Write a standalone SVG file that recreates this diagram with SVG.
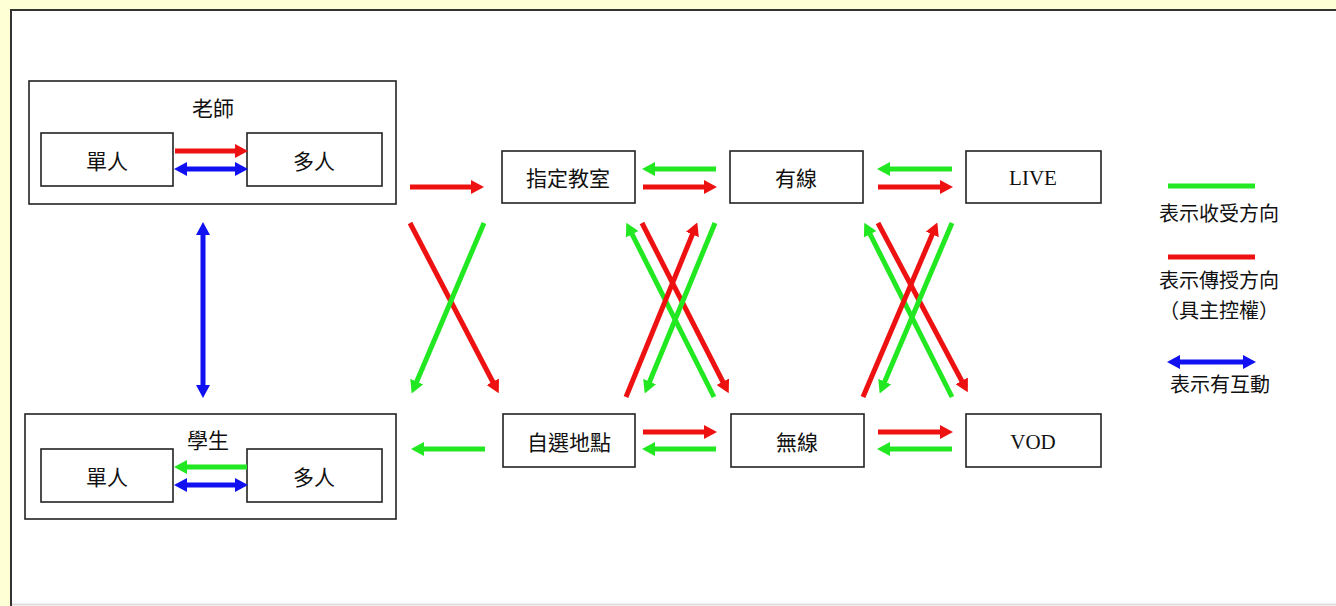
<svg xmlns="http://www.w3.org/2000/svg" width="1336" height="606" viewBox="0 0 1336 606">
<defs>
<style>
.box{fill:#fff;stroke:#222;stroke-width:1.6}
.t{font-family:"Noto Sans CJK TC","Noto Sans CJK SC",sans-serif;font-size:21px;fill:#111;text-anchor:middle;dominant-baseline:central}
.lg{font-size:20px}
.lt{font-family:"Liberation Serif",serif;font-size:21px;fill:#111;text-anchor:middle;dominant-baseline:central}
.r{stroke:#EE1111;stroke-width:5;fill:none;marker-end:url(#ar)}
.g{stroke:#22E822;stroke-width:5;fill:none;marker-end:url(#ag)}
.b{stroke:#1010F0;stroke-width:5;fill:none;marker-end:url(#ab);marker-start:url(#ab)}
</style>
<marker id="ar" markerUnits="userSpaceOnUse" markerWidth="13" markerHeight="14" refX="7" refY="7" orient="auto-start-reverse"><path d="M0,0 L13,7 L0,14 z" fill="#EE1111"/></marker>
<marker id="ag" markerUnits="userSpaceOnUse" markerWidth="13" markerHeight="14" refX="7" refY="7" orient="auto-start-reverse"><path d="M0,0 L13,7 L0,14 z" fill="#22E822"/></marker>
<marker id="ab" markerUnits="userSpaceOnUse" markerWidth="13" markerHeight="14" refX="7" refY="7" orient="auto-start-reverse"><path d="M0,0 L13,7 L0,14 z" fill="#1010F0"/></marker>
</defs>
<rect x="0" y="0" width="1336" height="606" fill="#FFFFD6"/>
<rect x="11" y="10" width="1340" height="600" fill="#fff" stroke="#333" stroke-width="2"/>
<line x1="12" y1="604.5" x2="1336" y2="604.5" stroke="#ddd" stroke-width="2"/>

<g id="teacher">
<rect class="box" x="29" y="81" width="367" height="123"/>
<text class="t" x="213" y="107">老師</text>
</g>
<g id="teacher-single"><rect class="box" x="41" y="133" width="132" height="53"/><text class="t" x="107" y="160">單人</text></g>
<g id="teacher-multi"><rect class="box" x="247" y="133" width="135" height="53"/><text class="t" x="314" y="160">多人</text></g>

<g id="student">
<rect class="box" x="25" y="414" width="371" height="105"/>
<text class="t" x="208" y="439">學生</text>
</g>
<g id="student-single"><rect class="box" x="41" y="449" width="132" height="53"/><text class="t" x="107" y="476">單人</text></g>
<g id="student-multi"><rect class="box" x="247" y="449" width="135" height="53"/><text class="t" x="314" y="476">多人</text></g>

<g id="classroom"><rect class="box" x="502" y="151" width="133" height="52"/><text class="t" x="568" y="177">指定教室</text></g>
<g id="wired"><rect class="box" x="730" y="151" width="133" height="52"/><text class="t" x="796" y="177">有線</text></g>
<g id="live"><rect class="box" x="966" y="151" width="135" height="52"/><text class="lt" x="1033" y="178">LIVE</text></g>
<g id="anywhere"><rect class="box" x="503" y="414" width="132" height="53"/><text class="t" x="569" y="441">自選地點</text></g>
<g id="wireless"><rect class="box" x="731" y="414" width="133" height="53"/><text class="t" x="797" y="441">無線</text></g>
<g id="vod"><rect class="box" x="966" y="414" width="135" height="53"/><text class="lt" x="1033" y="442">VOD</text></g>

<g id="connectors">
<line class="r" x1="175" y1="151" x2="242" y2="151"/>
<line class="b" x1="180" y1="169" x2="242" y2="169"/>
<line class="g" x1="247" y1="467" x2="180" y2="467"/>
<line class="b" x1="180" y1="485" x2="242" y2="485"/>
<line class="b" x1="203" y1="228" x2="203" y2="392"/>

<line class="r" x1="410" y1="187" x2="478" y2="187"/>
<line class="g" x1="716" y1="169" x2="648" y2="169"/>
<line class="r" x1="643" y1="187" x2="711" y2="187"/>
<line class="g" x1="952" y1="169" x2="883" y2="169"/>
<line class="r" x1="878" y1="187" x2="947" y2="187"/>

<line class="r" x1="643" y1="432" x2="711" y2="432"/>
<line class="g" x1="716" y1="449" x2="648" y2="449"/>
<line class="r" x1="878" y1="432" x2="947" y2="432"/>
<line class="g" x1="952" y1="449" x2="883" y2="449"/>
<line class="g" x1="485" y1="449" x2="417" y2="449"/>

<line class="r" x1="410" y1="223" x2="496" y2="388"/>
<line class="g" x1="484" y1="223" x2="414" y2="388"/>

<line class="g" x1="714" y1="397" x2="629" y2="228"/>
<line class="r" x1="642" y1="223" x2="726" y2="388"/>
<line class="r" x1="626" y1="397" x2="695" y2="228"/>
<line class="g" x1="715" y1="223" x2="647" y2="388"/>

<line class="g" x1="952" y1="397" x2="867" y2="228"/>
<line class="r" x1="878" y1="223" x2="965" y2="387"/>
<line class="r" x1="863" y1="397" x2="935" y2="228"/>
<line class="g" x1="952" y1="223" x2="882" y2="388"/>
</g>

<g id="legend">
<line x1="1168" y1="186" x2="1255" y2="186" stroke="#22E822" stroke-width="5"/>
<text class="t lg" x="1219" y="212">表示收受方向</text>
<line x1="1168" y1="257" x2="1255" y2="257" stroke="#EE1111" stroke-width="5"/>
<text class="t lg" x="1219" y="279">表示傳授方向</text>
<text class="t lg" x="1219" y="309">（具主控權）</text>
<line class="b" x1="1173" y1="362" x2="1250" y2="362"/>
<text class="t lg" x="1220" y="383">表示有互動</text>
</g>
</svg>
